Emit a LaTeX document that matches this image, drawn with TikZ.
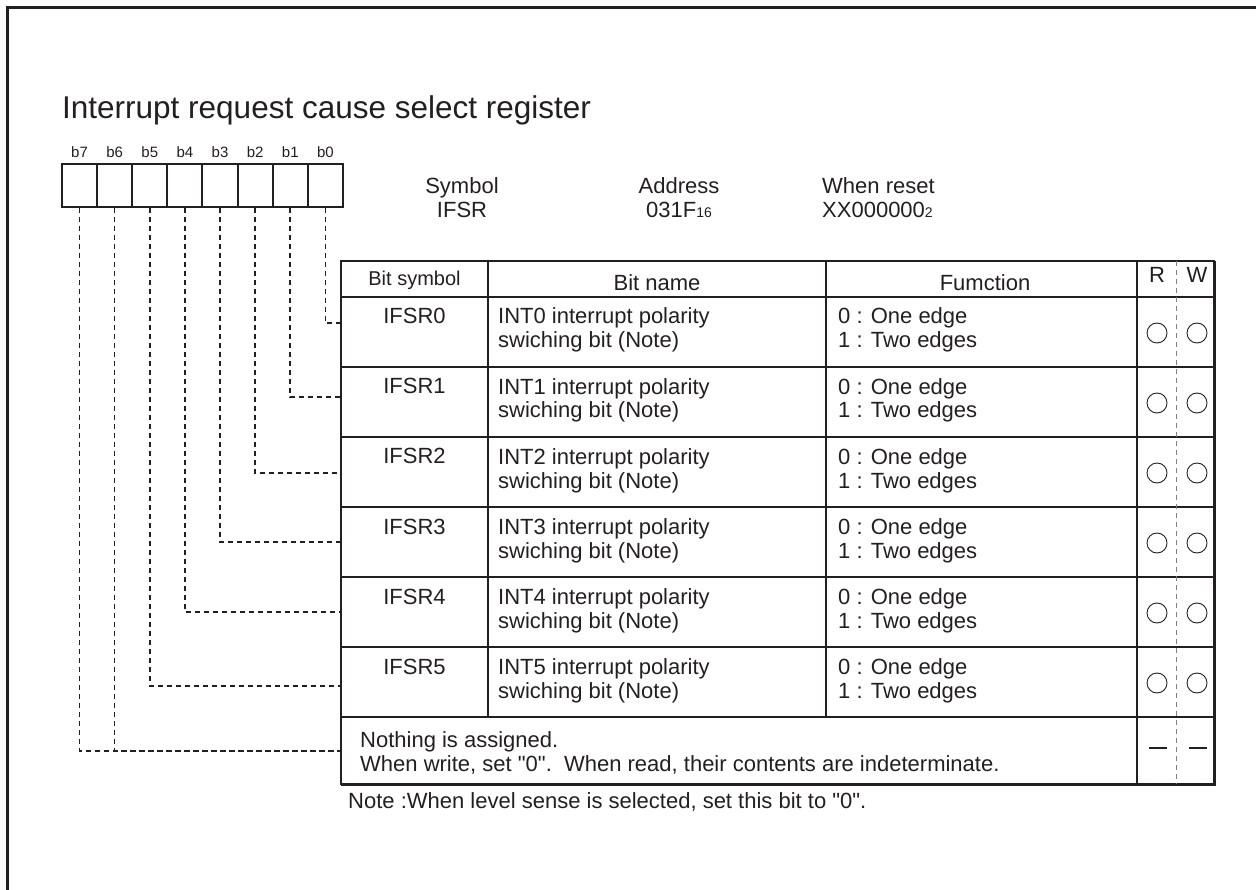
\documentclass[tikz,border=0pt]{standalone}
\usepackage{fontspec}
\setmainfont{Liberation Sans}
\newfontfamily\regfont{Liberation Sans}
\usepackage{tikz}
\definecolor{ink}{RGB}{35,31,32}
\newcommand{\regsub}[1]{{\fontsize{14}{14}\selectfont #1}}
\newcommand{\regdq}{{\regfont"}}
\tikzset{
  regline/.style={draw=ink, line width=2pt},
  regbit/.style={draw=ink, line width=2pt, minimum width=35.125pt, minimum height=43pt, inner sep=0pt},
  conn/.style={draw=ink, line width=1.6pt, dash pattern=on 5pt off 4pt},
  rwsep/.style={draw=gray, line width=0.9pt, dash pattern=on 5pt off 4pt},
  txt/.style={font=\fontsize{22}{24}\selectfont, inner sep=0pt, text=ink},
  rwmark/.style={circle, draw=ink, line width=0.9pt, minimum size=20pt, inner sep=0pt},
  rwdash/.style={fill=ink, minimum width=18pt, minimum height=2.5pt, inner sep=0pt}
}

\begin{document}
\begin{tikzpicture}[x=1pt,y=-1pt]
\useasboundingbox (0,0) rectangle (1256,890);
\draw [ink, line width=3pt] (7,890) -- (7,8) -- (1256,8);
\node [txt, font=\fontsize{31.5}{32}\selectfont, anchor=base west] (title) at (62,119) {Interrupt request cause select register};
% register bits
\foreach \i in {0,...,7} {
  \node [regbit] (b\i) at ({325.4-35.125*\i},185.5) {};
  \node [txt, font=\fontsize{15}{15}\selectfont, anchor=base] (bl\i) at ({325.4-35.125*\i},158) {b\i};
}
\node [txt, anchor=base, align=center] (sym) at (462,218) {Symbol\\IFSR};
\node [txt, anchor=base, align=center] (addr) at (679,218) {Address\\031F\regsub{16}};
\node [txt, anchor=base west, align=left] (rst) at (822,218) {When reset\\XX000000\regsub{2}};
% table
\draw [regline] (341,261) rectangle (1214,784);
\foreach \y in {297,367,437,507,577,647,717}
  \draw [regline] (341,\y) -- (1214,\y);
\draw [regline] (488,261) -- (488,717);
\draw [regline] (826,261) -- (826,717);
\draw [regline] (1137,261) -- (1137,784);
\draw [ink, line width=3pt] (1214,261) -- (1214,784) -- (341,784);
\draw [rwsep] (1176,261) -- (1176,784);
\node [txt, font=\fontsize{20}{20}\selectfont, anchor=base] (hsym) at (414.5,286) {Bit symbol};
\node [txt, anchor=base] (hname) at (657,291) {Bit name};
\node [txt, anchor=base] (hfunc) at (985,291) {Fumction};
\node [txt, anchor=base] (hr) at (1157,283) {R};
\node [txt, anchor=base] (hw) at (1197,283) {W};
\foreach \i/\y in {0/297,1/367,2/437,3/507,4/577,5/647} {
  \node [txt, anchor=base] (s\i) at (414.5,\y+27) {IFSR\i};
  \node [txt, anchor=base west, align=left] (n\i) at (498,\y+51) {INT\i\ interrupt polarity\\swiching bit (Note)};
  \node [txt, anchor=base west, align=left] (f\i) at (838,\y+51) {0 : One edge\\1 : Two edges};
  \node [rwmark] (r\i) at (1157,\y+36) {};
  \node [rwmark] (w\i) at (1197,\y+36) {};
}
\node [txt, anchor=base west, align=left] (s6) at (360,771) {Nothing is assigned.\\When write, set \regdq0\regdq.\ \ When read, their contents are indeterminate.};
\node [rwdash] (r6) at (1158,748) {};
\node [rwdash] (w6) at (1197.5,748) {};
\node [txt, anchor=base west] (note) at (348,808) {Note :When level sense is selected, set this bit to \regdq0\regdq.};
% bit connectors
\foreach \i/\y in {0/323,1/397,2/473,3/542,4/612,5/686,6/751}
  \coordinate (e\i) at (341,\y);
\foreach \i in {0,...,5}
  \draw [conn] (b\i.south) |- (e\i);
\draw [conn] (b6.south) |- (e6);
\draw [conn] (b7.south) |- (e6);
\end{tikzpicture}
\end{document}
